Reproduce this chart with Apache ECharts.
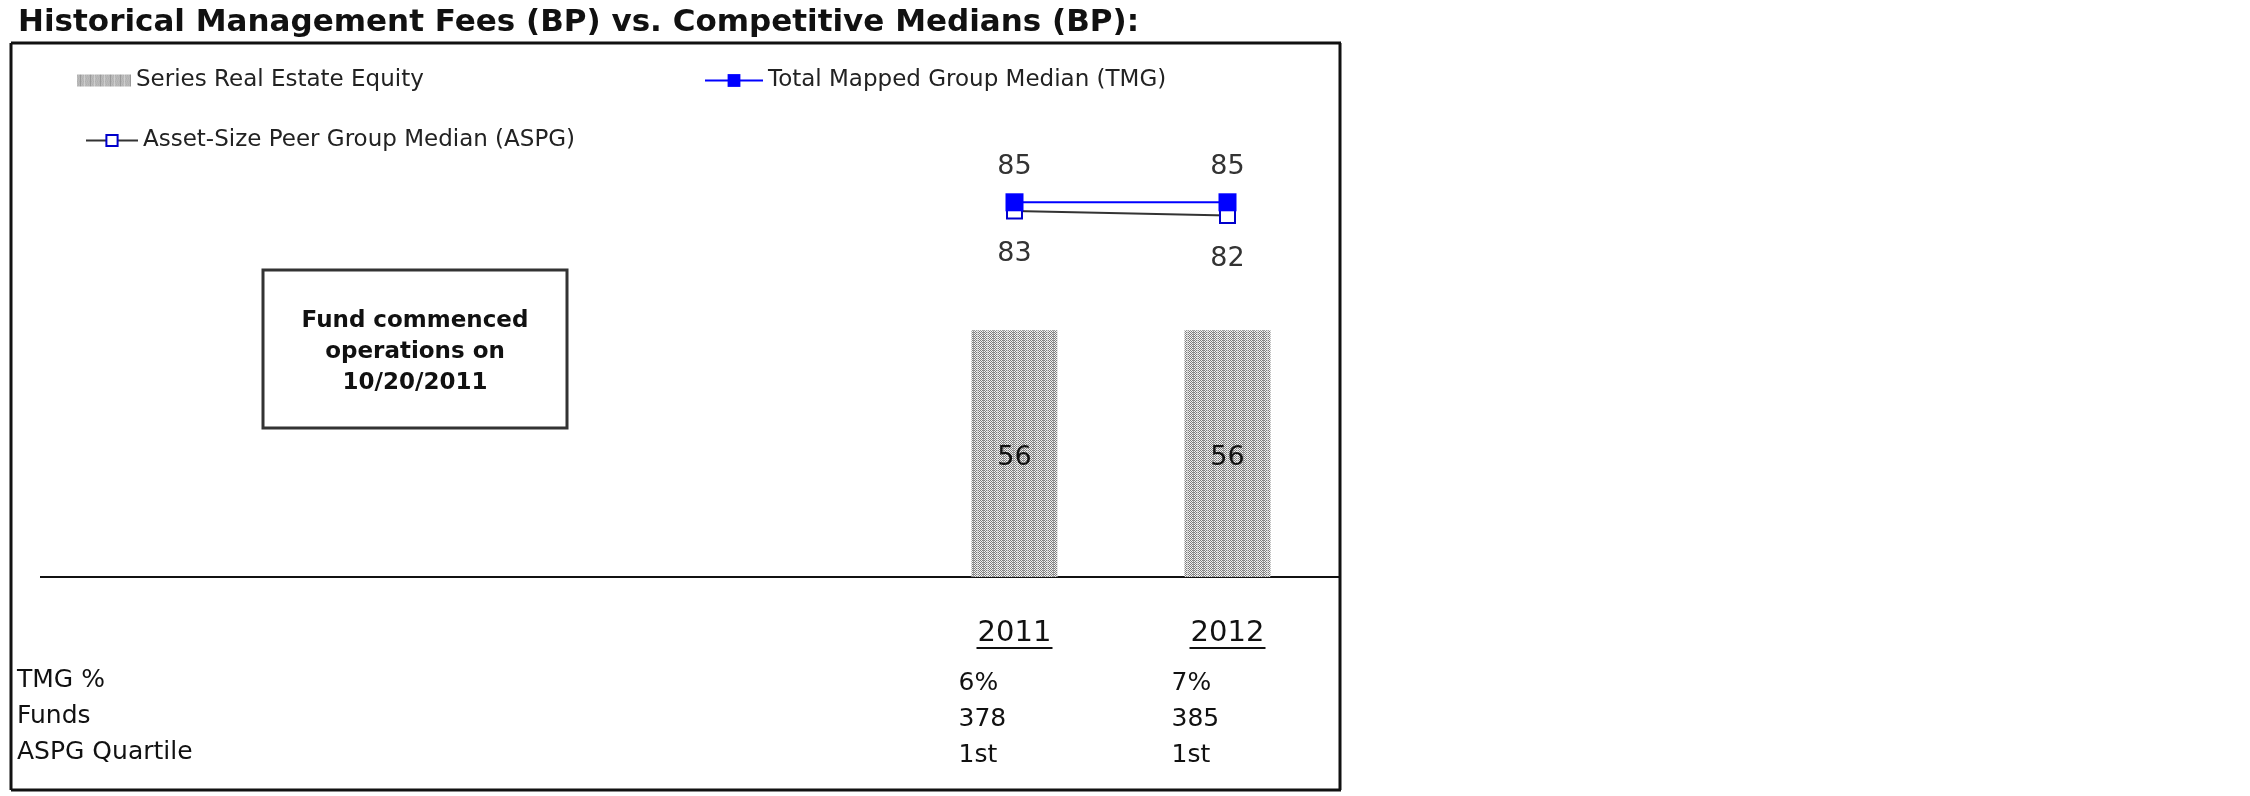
<!DOCTYPE html>
<html>
<head>
<meta charset="utf-8">
<title>Historical Management Fees</title>
<script src="https://cdn.jsdelivr.net/npm/echarts@6/dist/echarts.min.js"></script>
<style>
  html, body { margin: 0; padding: 0; background: #fff; }
  #chart { width: 2250px; height: 796px; }
</style>
</head>
<body>
<div id="chart"></div>
<script>
// 数据
const years = ['2011', '2012']
const seriesFees = [56, 56] // Series Real Estate Equity
const tmgMedian = [85, 85] // Total Mapped Group Median
const aspgMedian = [83, 82] // Asset-Size Peer Group Median
const tmgPct = ['6%', '7%']
const fundCounts = ['378', '385']
const aspgQuartile = ['1st', '1st']
const rowHeads = ['TMG %', 'Funds', 'ASPG Quartile']

const FONT = 'DejaVu Sans'

// 柱子的点阵纹理（竖条 + 棋盘点）
function makeDither() {
  const w = 10, h = 6
  const c = document.createElement('canvas')
  c.width = w
  c.height = h
  const ctx = c.getContext('2d')
  ctx.fillStyle = '#f2f2f2'
  ctx.fillRect(0, 0, w, h)
  ctx.fillStyle = '#7c7c7c'
  for (let y = 0; y < h; y++) {
    for (let x = 0; x < w; x++) {
      if ((x + y) % 2 === 0) ctx.fillRect(x, y, 1, 1)
    }
  }
  ctx.fillStyle = '#9a9a9a'
  ctx.fillRect(3, 0, 1, h)
  ctx.fillStyle = '#d0d0d0'
  ctx.fillRect(7, 0, 1, h)
  return c
}
const dither = { image: makeDither(), repeat: 'repeat' }

const myChart = echarts.init(document.getElementById('chart'))

const legendText = { fontFamily: FONT, fontSize: 23, color: '#222' }

const option = {
  animation: false,
  backgroundColor: '#fff',

  title: {
    text: 'Historical Management Fees (BP) vs. Competitive Medians (BP):',
    left: 13,
    top: 2,
    textStyle: { fontFamily: FONT, fontWeight: 'bold', fontSize: 31, color: '#111' }
  },

  legend: [
    {
      data: [{ name: 'Series Real Estate Equity', icon: 'rect' }],
      left: 72, top: 64,
      itemWidth: 54, itemHeight: 12, itemGap: 6,
      selectedMode: false,
      textStyle: legendText
    },
    {
      data: ['Total Mapped Group Median (TMG)'],
      left: 699, top: 64,
      itemWidth: 58, itemHeight: 16,
      selectedMode: false,
      textStyle: legendText
    },
    {
      data: ['Asset-Size Peer Group Median (ASPG)'],
      left: 80, top: 124,
      itemWidth: 52, itemHeight: 14,
      selectedMode: false,
      textStyle: legendText
    }
  ],

  grid: { left: 908, width: 426, top: 48, bottom: 219 },

  xAxis: {
    type: 'category',
    data: years,
    axisLine: { show: false },
    axisTick: { show: false },
    axisLabel: {
      margin: 38,
      width: 112,
      overflow: 'none',
      align: 'center',
      formatter: (v, i) =>
        `{yr|${v}}\n{gap| }\n{v1|${tmgPct[i]}}\n{v|${fundCounts[i]}}\n{v|${aspgQuartile[i]}}`,
      rich: {
        yr: { fontFamily: FONT, fontSize: 29, lineHeight: 36, color: '#111', align: 'center' },
        gap: { fontSize: 10, lineHeight: 14 },
        v1: { fontFamily: FONT, fontSize: 25, lineHeight: 36, color: '#111', align: 'left' },
        v: { fontFamily: FONT, fontSize: 25, lineHeight: 36, color: '#111', align: 'left' }
      }
    }
  },

  yAxis: { type: 'value', min: 0, max: 120, show: false },

  series: [
    {
      name: 'Series Real Estate Equity',
      type: 'bar',
      data: seriesFees,
      barWidth: 86,
      itemStyle: { color: dither },
      label: {
        show: true,
        position: 'inside',
        offset: [0, 4],
        fontFamily: FONT,
        fontSize: 27,
        color: '#111'
      }
    },
    {
      name: 'Asset-Size Peer Group Median (ASPG)',
      type: 'line',
      data: aspgMedian,
      symbol: 'rect',
      symbolSize: 15,
      lineStyle: { color: '#333', width: 2 },
      itemStyle: { color: '#fff', borderColor: '#0000cc', borderWidth: 2 },
      label: {
        show: true,
        position: 'bottom',
        distance: 21,
        fontFamily: FONT,
        fontSize: 27,
        color: '#333'
      }
    },
    {
      name: 'Total Mapped Group Median (TMG)',
      type: 'line',
      data: tmgMedian,
      symbol: 'rect',
      symbolSize: 18,
      lineStyle: { color: '#0000ff', width: 2 },
      itemStyle: { color: '#0000ff' },
      label: {
        show: true,
        position: 'top',
        distance: 13,
        fontFamily: FONT,
        fontSize: 27,
        color: '#333'
      }
    }
  ]
}

myChart.setOption(option)

/* 边框、底线、注释框、表格行头 */
const ink = '#111'
const line = (x1, y1, x2, y2, w) => ({
  type: 'line',
  shape: { x1, y1, x2, y2 },
  style: { stroke: ink, lineWidth: w },
  silent: true
})

const graphics = [
  line(11, 43, 1341, 43, 3),
  line(11, 43, 11, 790, 3),
  line(1340, 43, 1340, 790, 3),
  line(11, 790, 1341, 790, 3),
  line(40, 577, 1340, 577, 2),
  {
    type: 'rect',
    shape: { x: 263, y: 270, width: 304, height: 158 },
    style: { fill: '#fff', stroke: '#333', lineWidth: 3 }
  },
  {
    type: 'text',
    style: {
      x: 415, y: 352,
      text: 'Fund commenced\noperations on\n10/20/2011',
      align: 'center', verticalAlign: 'middle',
      font: `bold 23px "${FONT}"`,
      lineHeight: 31,
      fill: '#111'
    }
  }
]

// 行头
rowHeads.forEach((t, i) => {
  graphics.push({
    type: 'text',
    style: {
      x: 17, y: 680 + i * 36,
      text: t,
      verticalAlign: 'middle',
      font: `25px "${FONT}"`,
      fill: '#111'
    }
  })
})

// 年份下划线，位置取自坐标轴
years.forEach(y => {
  const x = myChart.convertToPixel({ xAxisIndex: 0 }, y)
  graphics.push(line(x - 38, 648, x + 38, 648, 2))
})

myChart.setOption({ graphic: graphics })
</script>
</body>
</html>
